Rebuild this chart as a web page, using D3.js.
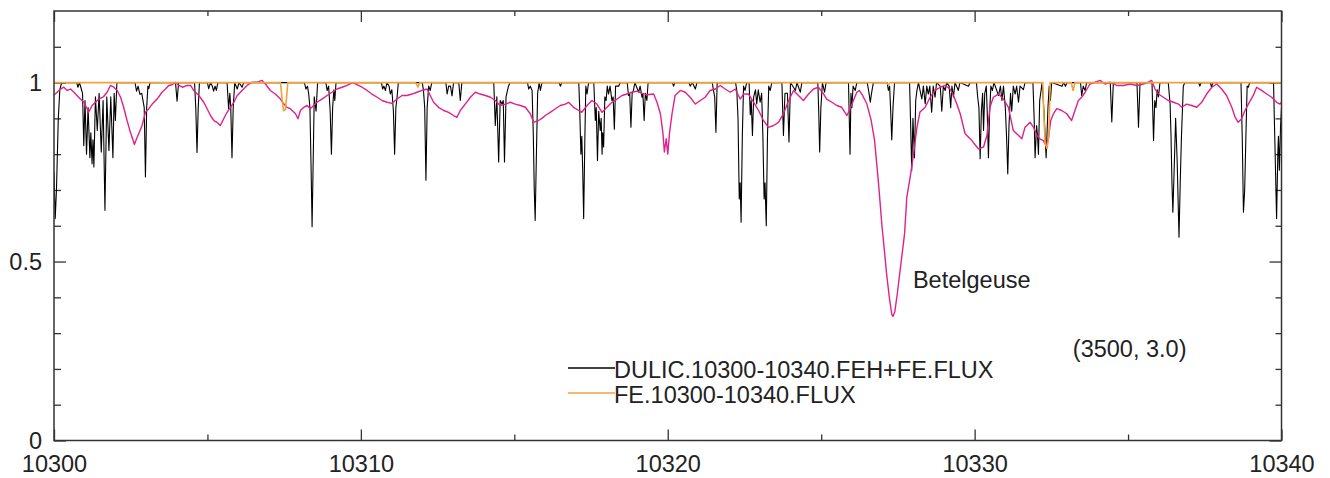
<!DOCTYPE html>
<html>
<head>
<meta charset="utf-8">
<script src="https://cdn.jsdelivr.net/npm/d3@7"></script>
<style>
  body { margin: 0; background: #fff; }
  text { font-family: "Liberation Sans", Arial, sans-serif; font-size: 23.5px; fill: #222; }
</style>
</head>
<body>
<div id="chart"></div>
<script>
// tick values / labels
const xTicks = [10300, 10310, 10320, 10330, 10340];
const xMinorTicks = [10305, 10315, 10325, 10335];
const yTicks = [0, 0.5, 1];
const yMinorTicks = [0.1, 0.2, 0.3, 0.4, 0.6, 0.7, 0.8, 0.9, 1.1];
const seriesNames = ["DULIC.10300-10340.FEH+FE.FLUX", "FE.10300-10340.FLUX"];
const starLabel = "Betelgeuse";
const modelLabel = "(3500, 3.0)";

// synthetic FEH+FE spectrum, [wavelength, flux]
const dulicFlux = [
  [10300.00,0.75],[10300.04,0.62],[10300.08,0.70],[10300.14,0.90],[10300.19,0.98],[10300.25,1],
  [10300.74,1],[10300.78,0.987],[10300.83,1],[10300.89,0.982],[10300.93,0.97],[10300.97,0.824],[10301.01,0.95],
  [10301.06,0.80],[10301.11,0.93],[10301.17,0.79],[10301.20,0.86],[10301.24,0.773],[10301.27,0.84],[10301.30,0.764],
  [10301.35,0.96],[10301.41,0.866],[10301.47,0.97],[10301.54,0.806],[10301.60,0.95],[10301.66,0.643],[10301.72,0.96],
  [10301.79,0.81],[10301.85,0.96],[10301.92,0.79],[10301.96,0.97],[10302.00,0.894],[10302.05,1],
  [10302.64,1],[10302.69,0.976],[10302.74,0.99],[10302.80,0.967],[10302.86,0.97],[10302.94,0.93],[10302.98,0.736],
  [10303.02,0.93],[10303.06,0.99],[10303.09,0.983],[10303.13,1],
  [10303.96,1],[10304.01,0.948],[10304.06,1],
  [10304.58,1],[10304.62,0.93],[10304.66,0.805],[10304.70,0.93],[10304.74,1],
  [10305.00,1],[10305.04,0.983],[10305.10,1],[10305.16,0.99],[10305.20,0.976],[10305.25,0.99],[10305.29,0.978],[10305.34,1],
  [10305.64,1],[10305.69,0.927],[10305.73,0.97],[10305.76,0.93],[10305.80,0.79],[10305.84,0.93],[10305.89,1],
  [10305.97,0.982],[10306.03,1],[10306.13,0.987],[10306.18,1],
  [10308.16,1],[10308.21,0.982],[10308.26,0.99],[10308.30,0.968],[10308.34,0.93],[10308.38,0.75],[10308.41,0.597],
  [10308.44,0.75],[10308.48,0.96],[10308.54,0.92],[10308.59,1],
  [10308.86,1],[10308.90,0.978],[10308.95,0.99],[10309.00,0.92],[10309.04,0.80],[10309.08,0.93],[10309.12,0.98],
  [10309.15,0.95],[10309.19,1],
  [10310.67,1],[10310.71,0.982],[10310.75,0.99],[10310.80,0.978],[10310.85,1],[10310.92,0.99],[10310.96,0.968],
  [10311.01,0.98],[10311.06,0.92],[10311.10,0.80],[10311.14,0.93],[10311.18,0.959],[10311.22,1],
  [10312.00,1],[10312.04,0.978],[10312.08,0.93],[10312.12,0.727],[10312.16,0.93],[10312.21,0.99],[10312.26,0.978],[10312.31,1],
  [10312.77,1],[10312.81,0.968],[10312.86,0.99],[10312.92,0.99],[10312.97,0.963],[10313.02,1],
  [10313.19,1],[10313.24,0.95],[10313.29,1],
  [10314.33,1],[10314.38,0.88],[10314.43,0.96],[10314.49,0.778],[10314.54,0.95],[10314.60,0.94],[10314.64,0.95],
  [10314.68,0.778],[10314.73,0.96],[10314.81,0.99],[10314.86,1],
  [10315.43,1],[10315.47,0.982],[10315.52,0.99],[10315.58,0.978],[10315.62,0.85],[10315.65,0.70],[10315.68,0.615],
  [10315.72,0.80],[10315.76,0.97],[10315.81,1],[10315.85,0.978],[10315.90,1],
  [10316.46,1],[10316.50,0.99],[10316.55,1],
  [10317.10,1],[10317.13,0.93],[10317.17,0.80],[10317.20,0.85],[10317.23,0.75],[10317.26,0.62],[10317.30,0.85],
  [10317.33,0.99],[10317.37,0.968],[10317.42,1],
  [10317.59,1],[10317.64,0.894],[10317.67,0.93],[10317.71,0.782],[10317.75,0.92],[10317.80,0.866],[10317.83,0.90],
  [10317.86,0.80],[10317.88,0.86],[10317.91,0.82],[10317.95,0.96],[10317.99,0.95],[10318.03,0.99],[10318.07,0.968],
  [10318.12,0.99],[10318.18,0.95],[10318.22,0.96],[10318.26,0.87],[10318.30,0.99],[10318.40,0.99],[10318.45,1],
  [10318.68,1],[10318.72,0.964],[10318.76,0.97],[10318.80,0.875],[10318.84,0.97],[10318.88,0.978],[10318.93,1],
  [10319.05,0.973],[10319.10,0.99],[10319.16,0.959],[10319.19,0.97],[10319.23,0.894],[10319.27,0.97],[10319.32,0.95],[10319.36,1],
  [10320.15,1],[10320.19,0.99],[10320.23,1],[10320.69,1],[10320.73,0.99],[10320.80,1],[10320.90,0.982],[10320.95,1],
  [10321.45,1],[10321.49,0.978],[10321.53,0.96],[10321.57,0.861],[10321.61,1],
  [10322.21,1],[10322.25,0.978],[10322.29,0.90],[10322.33,0.675],[10322.36,0.72],[10322.39,0.61],[10322.43,0.85],
  [10322.47,0.99],[10322.52,0.978],[10322.57,1],
  [10322.65,1],[10322.69,0.91],[10322.72,0.95],[10322.76,0.852],[10322.80,0.96],[10322.86,0.98],[10322.90,0.94],
  [10322.95,0.98],[10323.01,0.945],[10323.06,0.97],[10323.10,0.85],[10323.14,0.675],[10323.17,0.72],[10323.21,0.60],
  [10323.25,0.85],[10323.29,0.99],[10323.34,0.978],[10323.39,1],
  [10323.72,1],[10323.77,0.852],[10323.82,0.97],[10323.90,0.97],[10323.95,0.834],[10324.00,1],
  [10324.16,0.978],[10324.21,1],[10324.32,0.973],[10324.37,1],
  [10324.89,1],[10324.92,0.92],[10324.95,0.806],[10324.99,0.93],[10325.04,1],[10325.11,0.973],[10325.16,1],
  [10325.89,1],[10325.94,0.80],[10325.97,0.97],[10326.00,0.93],[10326.04,0.99],[10326.11,0.978],[10326.16,1],
  [10326.50,1],[10326.56,0.97],[10326.60,0.945],[10326.64,0.97],[10326.70,1],
  [10327.15,1],[10327.19,0.978],[10327.23,0.99],[10327.26,0.93],[10327.30,0.84],[10327.34,0.93],[10327.39,1],
  [10327.88,1],[10327.91,0.90],[10327.95,0.754],[10327.99,0.90],[10328.04,0.79],[10328.08,0.95],[10328.12,0.978],
  [10328.17,1],[10328.28,0.954],[10328.33,0.99],[10328.39,0.94],[10328.44,0.99],[10328.49,0.968],[10328.54,0.99],
  [10328.60,0.917],[10328.65,0.99],[10328.71,0.959],[10328.76,1],[10328.88,0.99],[10328.93,0.92],[10328.98,0.99],
  [10329.04,0.978],[10329.09,1],[10329.17,0.99],[10329.22,0.93],[10329.26,0.99],[10329.31,0.959],[10329.36,1],
  [10329.47,0.978],[10329.52,1],[10329.80,0.99],[10329.85,1],
  [10330.06,1],[10330.10,0.959],[10330.14,0.93],[10330.18,0.787],[10330.22,0.92],[10330.26,0.97],[10330.29,0.866],
  [10330.33,0.97],[10330.38,0.99],[10330.41,0.92],[10330.45,0.79],[10330.49,0.92],[10330.53,0.99],[10330.58,0.978],
  [10330.63,1],[10330.78,0.964],[10330.84,0.99],[10330.89,0.95],[10330.94,0.99],[10331.00,0.93],[10331.04,0.85],
  [10331.08,0.745],[10331.12,0.88],[10331.17,0.97],[10331.21,0.92],[10331.26,0.99],[10331.32,0.968],[10331.37,0.99],
  [10331.43,0.945],[10331.48,0.99],[10331.59,0.98],[10331.64,1],
  [10331.90,1],[10331.94,0.90],[10331.97,0.79],[10332.02,0.88],[10332.05,0.85],[10332.08,0.80],[10332.12,0.95],
  [10332.20,1],[10332.26,0.92],[10332.33,0.79],[10332.39,0.93],[10332.43,0.99],[10332.47,0.95],[10332.51,1],
  [10332.85,0.99],[10332.90,1],[10332.96,0.99],[10333.01,1],
  [10333.45,1],[10333.49,0.964],[10333.54,0.99],[10333.60,0.978],[10333.65,1],
  [10334.42,1],[10334.47,0.89],[10334.52,1],
  [10335.29,1],[10335.34,0.875],[10335.39,1],
  [10335.78,1],[10335.83,0.838],[10335.87,0.95],[10335.91,0.93],[10335.95,0.98],[10335.99,0.96],[10336.04,1],
  [10336.31,1],[10336.37,0.94],[10336.40,0.85],[10336.43,0.72],[10336.46,0.638],[10336.50,0.75],[10336.55,0.90],
  [10336.60,0.78],[10336.66,0.568],[10336.70,0.72],[10336.74,0.85],[10336.80,0.99],[10336.85,1],
  [10337.30,1],[10337.34,0.99],[10337.38,1],[10337.68,1],[10337.72,0.987],[10337.76,1],
  [10338.68,1],[10338.72,0.85],[10338.76,0.638],[10338.80,0.70],[10338.84,0.85],[10338.88,0.99],[10338.92,0.987],[10338.96,1],
  [10339.74,1],[10339.78,0.85],[10339.84,0.62],[10339.88,0.80],[10339.90,0.85],[10339.93,0.755],[10339.97,0.88],[10340.00,0.93]
];

// FE only spectrum
const feFlux = [
  [10300,1],[10307.38,1],[10307.44,0.95],[10307.48,0.922],[10307.54,0.925],[10307.58,0.96],[10307.62,1],
  [10311.78,1],[10311.86,0.988],[10311.92,1],
  [10327.13,1],[10327.19,0.994],[10327.25,1],
  [10332.22,1],[10332.26,0.90],[10332.30,0.83],[10332.36,0.815],[10332.42,0.85],[10332.46,1],
  [10333.15,1],[10333.21,0.977],[10333.27,1],[10340,1]
];

// observed Betelgeuse spectrum
const betelgeuseFlux = [
  [10300.00,0.965],[10300.10,0.973],[10300.21,0.982],[10300.32,0.987],[10300.43,0.978],[10300.54,0.982],
  [10300.65,0.973],[10300.75,0.964],[10300.86,0.954],[10300.97,0.945],[10301.08,0.927],[10301.13,0.917],
  [10301.24,0.936],[10301.35,0.945],[10301.46,0.954],[10301.62,0.961],[10301.73,0.973],[10301.84,0.992],
  [10301.95,0.987],[10302.06,0.978],[10302.17,0.959],[10302.27,0.931],[10302.38,0.894],[10302.49,0.861],
  [10302.58,0.838],[10302.62,0.827],[10302.69,0.843],[10302.76,0.857],[10302.87,0.88],[10302.98,0.917],
  [10303.09,0.927],[10303.20,0.94],[10303.36,0.954],[10303.52,0.973],[10303.63,0.982],[10303.74,0.992],
  [10303.85,0.994],[10303.96,1.001],[10304.07,0.992],[10304.18,0.987],[10304.34,0.992],[10304.45,0.992],
  [10304.55,0.978],[10304.72,0.964],[10304.88,0.945],[10304.99,0.927],[10305.10,0.908],[10305.21,0.894],
  [10305.31,0.889],[10305.42,0.88],[10305.53,0.899],[10305.64,0.917],[10305.75,0.931],[10305.86,0.945],
  [10305.97,0.964],[10306.13,0.978],[10306.29,0.992],[10306.46,1.001],[10306.62,1.001],[10306.78,1.006],
  [10306.89,0.996],[10307.05,0.978],[10307.21,0.968],[10307.38,0.954],[10307.49,0.94],[10307.59,0.931],
  [10307.70,0.927],[10307.87,0.913],[10307.95,0.899],[10308.03,0.922],[10308.14,0.931],[10308.25,0.936],
  [10308.35,0.927],[10308.46,0.936],[10308.57,0.945],[10308.73,0.954],[10308.90,0.964],[10309.06,0.973],
  [10309.22,0.982],[10309.39,0.987],[10309.55,0.992],[10309.73,1.0],[10309.87,0.994],[10310.04,0.987],
  [10310.20,0.978],[10310.36,0.968],[10310.53,0.959],[10310.69,0.95],[10310.85,0.945],[10311.01,0.942],
  [10311.18,0.954],[10311.34,0.964],[10311.50,0.964],[10311.67,0.968],[10311.83,0.973],[10311.99,0.978],
  [10312.16,0.982],[10312.26,0.964],[10312.37,0.945],[10312.53,0.931],[10312.70,0.922],[10312.86,0.917],
  [10313.02,0.908],[10313.13,0.903],[10313.24,0.922],[10313.40,0.94],[10313.57,0.959],[10313.73,0.973],
  [10313.89,0.968],[10314.06,0.964],[10314.22,0.959],[10314.38,0.95],[10314.54,0.936],[10314.71,0.94],
  [10314.87,0.945],[10315.03,0.94],[10315.20,0.936],[10315.36,0.931],[10315.52,0.913],[10315.63,0.889],
  [10315.79,0.894],[10315.90,0.90],[10316.01,0.908],[10316.17,0.917],[10316.34,0.927],[10316.50,0.936],
  [10316.66,0.94],[10316.77,0.945],[10316.93,0.931],[10317.10,0.922],[10317.20,0.917],[10317.37,0.936],
  [10317.53,0.95],[10317.69,0.94],[10317.86,0.917],[10318.02,0.931],[10318.18,0.945],[10318.35,0.954],
  [10318.51,0.964],[10318.67,0.968],[10318.83,0.973],[10319.00,0.976],[10319.16,0.97],[10319.32,0.966],
  [10319.54,0.968],[10319.65,0.945],[10319.76,0.913],[10319.84,0.861],[10319.89,0.806],[10319.95,0.843],
  [10320.00,0.80],[10320.06,0.861],[10320.14,0.913],[10320.24,0.964],[10320.41,0.978],[10320.57,0.973],
  [10320.73,0.959],[10320.90,0.94],[10321.06,0.95],[10321.22,0.959],[10321.38,0.978],[10321.55,0.982],
  [10321.71,0.992],[10321.87,0.982],[10322.04,0.973],[10322.20,0.982],[10322.36,0.954],[10322.47,0.968],
  [10322.63,0.968],[10322.80,0.945],[10322.96,0.922],[10323.12,0.894],[10323.28,0.875],[10323.45,0.88],
  [10323.61,0.889],[10323.77,0.913],[10323.94,0.95],[10324.10,0.978],[10324.26,0.964],[10324.42,0.95],
  [10324.59,0.968],[10324.75,0.982],[10324.91,0.987],[10325.08,0.968],[10325.18,0.954],[10325.35,0.945],
  [10325.51,0.936],[10325.67,0.931],[10325.84,0.908],[10325.94,0.927],[10326.05,0.95],[10326.16,0.973],
  [10326.24,0.978],[10326.35,0.964],[10326.49,0.94],[10326.63,0.894],[10326.74,0.838],[10326.87,0.717],
  [10326.98,0.60],[10327.05,0.54],[10327.13,0.467],[10327.22,0.40],[10327.30,0.352],[10327.34,0.347],
  [10327.40,0.36],[10327.48,0.41],[10327.56,0.467],[10327.65,0.53],[10327.72,0.58],[10327.79,0.68],
  [10327.90,0.736],[10328.01,0.80],[10328.12,0.875],[10328.22,0.918],[10328.39,0.931],[10328.55,0.959],
  [10328.71,0.978],[10328.88,0.987],[10329.04,0.992],[10329.20,0.982],[10329.31,0.964],[10329.42,0.94],
  [10329.53,0.913],[10329.69,0.857],[10329.91,0.838],[10330.12,0.815],[10330.29,0.82],[10330.40,0.852],
  [10330.50,0.931],[10330.61,0.959],[10330.78,0.968],[10330.94,0.954],[10331.10,0.931],[10331.26,0.866],
  [10331.43,0.852],[10331.54,0.843],[10331.64,0.875],[10331.81,0.889],[10331.92,0.875],[10332.03,0.852],
  [10332.13,0.843],[10332.24,0.838],[10332.33,0.824],[10332.41,0.847],[10332.48,0.894],[10332.57,0.913],
  [10332.68,0.927],[10332.84,0.922],[10333.00,0.913],[10333.16,0.894],[10333.27,0.922],[10333.38,0.95],
  [10333.49,0.959],[10333.60,0.973],[10333.76,0.996],[10333.92,1.001],[10334.09,1.006],[10334.25,0.996],
  [10334.41,1.001],[10334.63,0.992],[10334.85,0.992],[10335.07,0.996],[10335.28,0.992],[10335.50,0.996],
  [10335.66,1.001],[10335.77,1.006],[10335.88,0.982],[10335.99,0.968],[10336.15,0.959],[10336.31,0.95],
  [10336.48,0.945],[10336.64,0.94],[10336.75,0.931],[10336.91,0.94],[10337.07,0.936],[10337.24,0.931],
  [10337.40,0.945],[10337.56,0.968],[10337.73,0.987],[10337.89,0.996],[10338.05,0.982],[10338.21,0.964],
  [10338.38,0.931],[10338.49,0.903],[10338.59,0.889],[10338.70,0.899],[10338.81,0.922],[10338.92,0.94],
  [10339.08,0.964],[10339.19,0.987],[10339.35,0.978],[10339.52,0.968],[10339.68,0.959],[10339.84,0.945],
  [10339.95,0.94],[10340.00,0.945]
];

// set the dimensions and margins of the graph
const margin = {top: 11, right: 48.5, bottom: 37.5, left: 54},
    width = 1330 - margin.left - margin.right,
    height = 478 - margin.top - margin.bottom;

const svg = d3.select("#chart")
  .append("svg")
    .attr("width", 1330)
    .attr("height", 478)
  .append("g")
    .attr("transform", `translate(${margin.left},${margin.top})`);

const x = d3.scaleLinear().domain([10300, 10340]).range([0, width]);
const y = d3.scaleLinear().domain([0, 1.2]).range([height, 0]);

// ticks all point inward
function addAxis(axis, transform) {
  const g = svg.append("g").attr("transform", transform).call(axis);
  g.select(".domain").remove();
  g.selectAll(".tick line").attr("stroke", "#333").attr("stroke-width", 1.3);
  return g;
}

addAxis(d3.axisBottom(x).tickValues(xTicks).tickSize(-11).tickPadding(15).tickFormat(d3.format("d")),
  `translate(0,${height})`);
addAxis(d3.axisBottom(x).tickValues(xMinorTicks).tickSize(-6).tickFormat(""), `translate(0,${height})`);
addAxis(d3.axisTop(x).tickValues(xTicks).tickSize(-11).tickFormat(""), "translate(0,0)");
addAxis(d3.axisTop(x).tickValues(xMinorTicks).tickSize(-5).tickFormat(""), "translate(0,0)");
addAxis(d3.axisLeft(y).tickValues(yTicks).tickSize(-12).tickPadding(12).tickFormat(d => String(d)), "translate(0,0)");
addAxis(d3.axisLeft(y).tickValues(yMinorTicks).tickSize(-7).tickFormat(""), "translate(0,0)");
addAxis(d3.axisRight(y).tickValues(yTicks).tickSize(-12).tickFormat(""), `translate(${width},0)`);
addAxis(d3.axisRight(y).tickValues(yMinorTicks).tickSize(-6).tickFormat(""), `translate(${width},0)`);

svg.selectAll(".tick text").attr("font-size", 23.5).attr("fill", "#222")
  .attr("font-family", "'Liberation Sans', Arial, sans-serif");

svg.append("clipPath").attr("id", "plotclip")
  .append("rect").attr("width", width).attr("height", height);

const line = d3.line().x(d => x(d[0])).y(d => y(d[1]));

const plot = svg.append("g").attr("clip-path", "url(#plotclip)");

plot.append("path").datum(dulicFlux)
  .attr("fill", "none").attr("stroke", "#000").attr("stroke-width", 1.1)
  .attr("stroke-linejoin", "round").attr("d", line);

plot.append("path").datum(betelgeuseFlux)
  .attr("fill", "none").attr("stroke", "#e0218a").attr("stroke-width", 1.4)
  .attr("stroke-linejoin", "round").attr("d", line);

plot.append("path").datum(feFlux)
  .attr("fill", "none").attr("stroke", "#f0a23c").attr("stroke-width", 1.6)
  .attr("d", line);

// frame
svg.append("rect")
  .attr("width", width).attr("height", height)
  .attr("fill", "none").attr("stroke", "#333").attr("stroke-width", 1.5);

// legend
const legendColors = ["#000", "#f0a23c"];
const legend = svg.append("g")
  .attr("transform", `translate(${x(10316.75)},${y(0.2026)})`);
seriesNames.forEach((name, i) => {
  legend.append("line")
    .attr("x1", 0).attr("x2", 47).attr("y1", i * 25).attr("y2", i * 25)
    .attr("stroke", legendColors[i]).attr("stroke-width", 1.3);
  legend.append("text")
    .attr("x", 46).attr("y", i * 25 + 10)
    .text(name);
});

// annotations
svg.append("text").attr("x", x(10327.99)).attr("y", y(0.425)).text(starLabel);
svg.append("text").attr("x", x(10333.2)).attr("y", y(0.233)).text(modelLabel);
</script>
</body>
</html>
